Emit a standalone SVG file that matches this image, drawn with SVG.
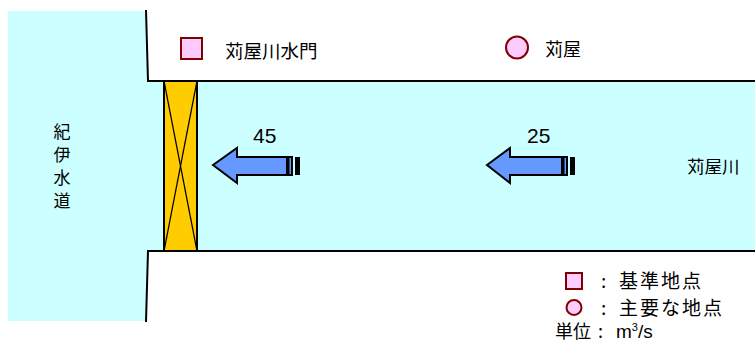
<svg xmlns="http://www.w3.org/2000/svg" width="755" height="343" viewBox="0 0 755 343">
<style>
.t{font-family:"Noto Sans CJK JP","Liberation Sans",sans-serif;fill:#000}
.n{font-family:"Liberation Sans",Arial,sans-serif;fill:#000}
.edge{fill:none;stroke:#000;stroke-width:2}
.arrow{fill:#6699FF;stroke:#000;stroke-width:2;stroke-linejoin:miter}
.mk{fill:#FFCCFF;stroke:#800000;stroke-width:2}
</style>
<rect width="755" height="343" fill="#fff"/>
<g id="water">
<rect x="8" y="11" width="140" height="310" fill="#CCFFFF"/>
<rect x="147" y="81" width="608" height="170" fill="#CCFFFF"/>
</g>
<g id="banks">
<polygon points="146,10 148,81 755,81 755,10" fill="#fff"/>
<polygon points="148,251 146,321 755,321 755,251" fill="#fff"/>
<polyline class="edge" points="146,10 148,81 755,81"/>
<polyline class="edge" points="146,322 148,251 755,251"/>
</g>
<g id="gate">
<rect x="164" y="81" width="33" height="170" fill="#FFCC00" stroke="#000" stroke-width="2"/>
<line x1="164" y1="81" x2="197" y2="251" stroke="#000" stroke-width="1.3"/>
<line x1="197" y1="81" x2="164" y2="251" stroke="#000" stroke-width="1.3"/>
</g>
<g id="kiisuido">
<text class="t" font-size="17" text-anchor="middle" x="62" y="138">紀</text>
<text class="t" font-size="17" text-anchor="middle" x="62" y="161">伊</text>
<text class="t" font-size="17" text-anchor="middle" x="62" y="184">水</text>
<text class="t" font-size="17" text-anchor="middle" x="62" y="207">道</text>
</g>
<g id="suimon">
<rect class="mk" x="181" y="38" width="21" height="21"/>
<text class="t" font-size="18.5" x="225" y="58">苅屋川水門</text>
</g>
<g id="kariya">
<circle class="mk" cx="517" cy="47.5" r="11"/>
<text class="t" font-size="18" x="545" y="56">苅屋</text>
</g>
<g id="river-label">
<text class="t" font-size="17.5" x="687" y="173">苅屋川</text>
</g>
<g id="connectors">
<g id="flow45">
<polygon class="arrow" points="213,165 237,148 237,157 287,157 287,175 237,175 237,183"/>
<rect class="arrow" x="288.5" y="157" width="3.5" height="18"/>
<rect x="295" y="157" width="5" height="18" fill="#000"/>
<text class="n" font-size="21" x="253" y="143">45</text>
</g>
<g id="flow25">
<polygon class="arrow" points="487,165 510,148 510,157 562,157 562,175 510,175 510,183"/>
<rect class="arrow" x="563.5" y="157" width="3.5" height="18"/>
<rect x="570" y="157" width="5" height="18" fill="#000"/>
<text class="n" font-size="21" x="527" y="143">25</text>
</g>
</g>
<g id="legend">
<rect class="mk" x="566" y="273" width="16" height="16"/>
<text class="t" font-size="19" x="601" y="288">:</text>
<text class="t" font-size="19" letter-spacing="2" x="619" y="288">基準地点</text>
<circle class="mk" cx="574" cy="307.5" r="7.5"/>
<text class="t" font-size="19" x="601" y="315">:</text>
<text class="t" font-size="19" letter-spacing="2" x="619" y="315">主要な地点</text>
<text class="t" font-size="18" x="555" y="338">単位</text>
<text class="t" font-size="18" x="598" y="338">:</text>
<text class="n" font-size="19" x="616" y="338">m<tspan font-size="11" dy="-7">3</tspan><tspan dy="7">/s</tspan></text>
</g>
</svg>
